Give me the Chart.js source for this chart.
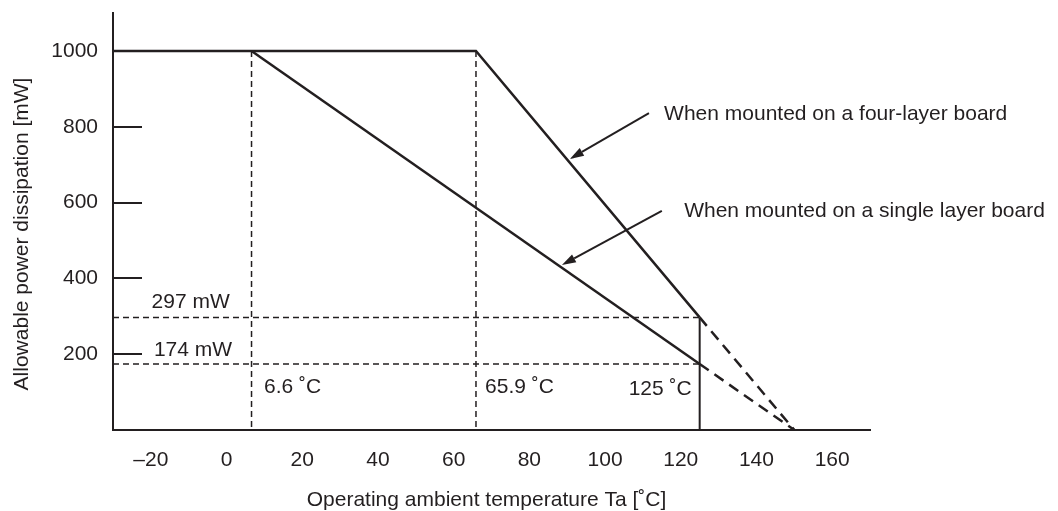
<!DOCTYPE html>
<html>
<head>
<meta charset="utf-8">
<script src="https://cdn.jsdelivr.net/npm/chart.js@4"></script>
<style>
  body { margin: 0; background: #fff; }
  canvas { display: block; }
</style>
</head>
<body>
<canvas id="derating" width="1058" height="511"></canvas>
<script>
// derating curve data (Ta in degC, power in mW)
const fourLayerTemps = [-30, 65.9, 125];
const fourLayerPower = [1000, 1000, 297];
const singleLayerTemps = [6.6, 125];
const singleLayerPower = [1000, 174];
const zeroPowerTemp = 150;
const guideTemps = [6.6, 65.9];
const guidePowers = [297, 174];
const xTickValues = [-20, 0, 20, 40, 60, 80, 100, 120, 140, 160];
const yTickValues = [200, 400, 600, 800, 1000];
const tempLabels = ["6.6 \u02DAC", "65.9 \u02DAC", "125 \u02DAC"];
const powerLabels = ["297 mW", "174 mW"];
const seriesNames = ["When mounted on a four-layer board", "When mounted on a single layer board"];

const INK = "#231f20";
const FONT = "21px 'Liberation Sans', Arial, sans-serif";

const pts = (xs, ys) => xs.map((x, i) => ({ x: x, y: ys[i] }));
const lastIdx = fourLayerTemps.length - 1;

function lineSet(data, width, dash) {
  return {
    data: data,
    showLine: true,
    borderColor: INK,
    borderWidth: width,
    borderDash: dash || [],
    pointRadius: 0,
    tension: 0,
  };
}

const datasets = [
  lineSet(pts(fourLayerTemps, fourLayerPower), 2.5),
  lineSet(pts(singleLayerTemps, singleLayerPower), 2.5),
  lineSet([{ x: fourLayerTemps[lastIdx], y: fourLayerPower[lastIdx] }, { x: zeroPowerTemp, y: 0 }], 2.5, [11, 7]),
  lineSet([{ x: singleLayerTemps[1], y: singleLayerPower[1] }, { x: zeroPowerTemp, y: 0 }], 2.5, [11, 7]),
  // solid drop line at 125 degC
  lineSet([{ x: fourLayerTemps[lastIdx], y: fourLayerPower[lastIdx] }, { x: fourLayerTemps[lastIdx], y: 0 }], 2),
];
guideTemps.forEach((t) => {
  datasets.push(lineSet([{ x: t, y: 1000 }, { x: t, y: 0 }], 1.5, [6, 4]));
});
guidePowers.forEach((p) => {
  datasets.push(lineSet([{ x: -30, y: p }, { x: 125, y: p }], 1.5, [6, 4]));
});

// annotation anchors in data coords
const tempLabelAt = [
  { x: 9.9, y: 97, align: "left" },
  { x: 68.3, y: 97, align: "left" },
  { x: 122.9, y: 92, align: "right" },
];
const powerLabelAt = [
  { x: -19.8, y: 321 },
  { x: -19.2, y: 196 },
];
const callouts = [
  { text: { x: 115.6, y: 818 }, tail: { x: 111.6, y: 836 }, tip: { x: 90.7, y: 715 } },
  { text: { x: 120.9, y: 563 }, tail: { x: 115.0, y: 578 }, tip: { x: 88.6, y: 435 } },
];

const decorations = {
  id: "decorations",
  afterDatasetsDraw(chart) {
    const ctx = chart.ctx;
    const xs = chart.scales.x;
    const ys = chart.scales.y;
    const area = chart.chartArea;
    ctx.save();
    ctx.strokeStyle = INK;
    ctx.fillStyle = INK;

    // inward y tick marks
    ctx.lineWidth = 2;
    yTickValues.forEach((v) => {
      const py = Math.round(ys.getPixelForValue(v));
      ctx.beginPath();
      ctx.moveTo(area.left, py);
      ctx.lineTo(area.left + 29, py);
      ctx.stroke();
    });

    ctx.font = FONT;
    ctx.textBaseline = "alphabetic";
    tempLabels.forEach((t, i) => {
      const a = tempLabelAt[i];
      ctx.textAlign = a.align;
      ctx.fillText(t, xs.getPixelForValue(a.x), ys.getPixelForValue(a.y));
    });
    ctx.textAlign = "left";
    powerLabels.forEach((t, i) => {
      const a = powerLabelAt[i];
      ctx.fillText(t, xs.getPixelForValue(a.x), ys.getPixelForValue(a.y));
    });

    // callout arrows
    ctx.lineWidth = 2;
    callouts.forEach((c, i) => {
      const tx = xs.getPixelForValue(c.tail.x), ty = ys.getPixelForValue(c.tail.y);
      const hx = xs.getPixelForValue(c.tip.x), hy = ys.getPixelForValue(c.tip.y);
      const ang = Math.atan2(hy - ty, hx - tx);
      const headLen = 14, headW = 4.5;
      const bx = hx - headLen * Math.cos(ang), by = hy - headLen * Math.sin(ang);
      ctx.beginPath();
      ctx.moveTo(tx, ty);
      ctx.lineTo(bx, by);
      ctx.stroke();
      ctx.beginPath();
      ctx.moveTo(hx, hy);
      ctx.lineTo(bx + headW * Math.sin(ang), by - headW * Math.cos(ang));
      ctx.lineTo(bx - headW * Math.sin(ang), by + headW * Math.cos(ang));
      ctx.closePath();
      ctx.fill();
      ctx.fillText(seriesNames[i], xs.getPixelForValue(c.text.x), ys.getPixelForValue(c.text.y));
    });

    // axis titles
    ctx.textAlign = "center";
    ctx.fillText("Operating ambient temperature Ta [\u02DAC]", (area.left + area.right) / 2 - 5, 506);
    ctx.translate(28, 234);
    ctx.rotate(-Math.PI / 2);
    ctx.fillText("Allowable power dissipation [mW]", 0, 0);
    ctx.restore();
  },
};

new Chart(document.getElementById("derating").getContext("2d"), {
  type: "scatter",
  data: { datasets: datasets },
  options: {
    responsive: false,
    animation: false,
    layout: { padding: { left: 0, top: 13, right: 188, bottom: 0 } },
    plugins: { legend: { display: false }, tooltip: { enabled: false } },
    scales: {
      x: {
        type: "linear",
        min: -30,
        max: 170,
        afterBuildTicks: (scale) => {
          scale.ticks = xTickValues.map((v) => ({ value: v }));
        },
        afterFit: (scale) => {
          scale.height = 81;
          scale.paddingLeft = 0;
          scale.paddingRight = 0;
        },
        grid: { display: false, drawTicks: false },
        border: { display: true, color: INK, width: 2 },
        ticks: {
          padding: 18,
          color: INK,
          maxRotation: 0,
          autoSkip: false,
          font: { family: "'Liberation Sans', Arial, sans-serif", size: 21 },
          callback: (v) => String(v).replace("-", "\u2013"),
        },
      },
      y: {
        type: "linear",
        min: 0,
        max: 1100,
        afterBuildTicks: (scale) => {
          scale.ticks = yTickValues.map((v) => ({ value: v }));
        },
        afterFit: (scale) => {
          scale.width = 113;
          scale.paddingTop = 0;
          scale.paddingBottom = 0;
        },
        grid: { display: false, drawTicks: false },
        border: { display: true, color: INK, width: 2 },
        ticks: {
          padding: 15,
          color: INK,
          autoSkip: false,
          font: { family: "'Liberation Sans', Arial, sans-serif", size: 21 },
          callback: (v) => String(v),
        },
      },
    },
  },
  plugins: [decorations],
});
</script>
</body>
</html>
